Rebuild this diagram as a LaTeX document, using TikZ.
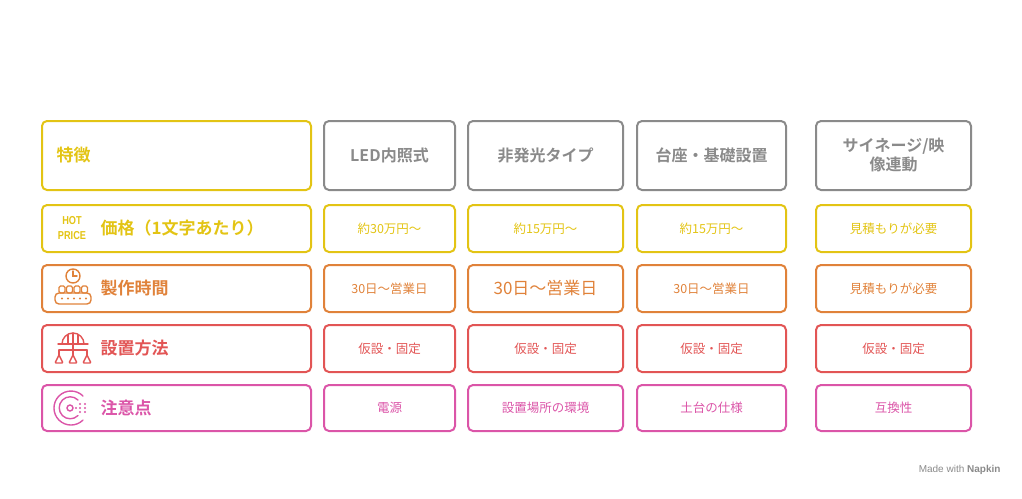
\documentclass[tikz,border=0pt]{standalone}
\usepackage{fontspec}
\setmainfont{Noto Sans CJK JP}
\newfontfamily\jpbold{Noto Sans CJK JP Bold}
\setsansfont{Liberation Sans}
\usetikzlibrary{positioning}
\definecolor{cyellow}{HTML}{E3C414}
\definecolor{corange}{HTML}{E0823A}
\definecolor{cred}{HTML}{E25555}
\definecolor{cpink}{HTML}{DB55A8}
\definecolor{cgray}{HTML}{8A8A8A}

\begin{document}
\begin{tikzpicture}[x=1pt,y=-1pt,
    cell/.style={rectangle, rounded corners=5pt, line width=2pt, align=center},
    headcell/.style={cell, draw=cgray, text=cgray, minimum height=69pt, font=\jpbold\fontsize{16}{19}\selectfont},
    rowcell/.style={cell, minimum height=47pt, font=\fontsize{12.5}{14}\selectfont},
    rowlabel/.style={anchor=west, font=\jpbold\fontsize{17}{20}\selectfont},
    icon/.style={line width=1.4pt, line cap=round}
]
    \useasboundingbox (0,0) rectangle (1022,498);

    % header row
    \node[headcell, draw=cyellow, minimum width=269pt] (h1) at (176.5,155.5) {};
    \node[rowlabel, text=cyellow] (h1t) at (53,155.5) {特徴};
    \node[headcell, minimum width=131pt] (h2) at (389.5,155.5) {LED内照式};
    \node[headcell, minimum width=155pt] (h3) at (545.5,155.5) {非発光タイプ};
    \node[headcell, minimum width=149pt] (h4) at (711.5,155.5) {台座・基礎設置};
    \node[headcell, minimum width=155pt] (h5) at (893.5,155.5) {サイネージ/映\\像連動};

    % price row
    \begin{scope}[every node/.append style={draw=cyellow, text=cyellow}]
        \node[rowcell, minimum width=269pt] (p1) at (176.5,228.5) {};
        \node[rowcell, minimum width=131pt] (p2) at (389.5,228.5) {約30万円〜};
        \node[rowcell, minimum width=155pt] (p3) at (545.5,228.5) {約15万円〜};
        \node[rowcell, minimum width=149pt] (p4) at (711.5,228.5) {約15万円〜};
        \node[rowcell, minimum width=155pt] (p5) at (893.5,228.5) {見積もりが必要};
    \end{scope}
    \node[rowlabel, text=cyellow] (p1t) at (97,228.5) {価格（1文字あたり）};
    \node[text=cyellow, font=\sffamily\bfseries\fontsize{11.5}{13}\selectfont, align=center, inner sep=0pt,
          xscale=0.8, transform shape] (hot) at (72,228) {HOT\\[2pt]PRICE};

    % time row
    \begin{scope}[every node/.append style={draw=corange, text=corange}]
        \node[rowcell, minimum width=269pt] (t1) at (176.5,288.5) {};
        \node[rowcell, minimum width=131pt] (t2) at (389.5,288.5) {30日〜営業日};
        \node[rowcell, minimum width=155pt, font=\fontsize{17}{20}\selectfont] (t3) at (545.5,288.5) {30日〜営業日};
        \node[rowcell, minimum width=149pt] (t4) at (711.5,288.5) {30日〜営業日};
        \node[rowcell, minimum width=155pt] (t5) at (893.5,288.5) {見積もりが必要};
    \end{scope}
    \node[rowlabel, text=corange] (t1t) at (97,288.5) {製作時間};
    \begin{scope}[icon, draw=corange]
        \draw (73,276) circle (7pt);
        \draw (73,271) -- (73,276) -- (77,276);
        \foreach \xx in {59,66.5,74,81.5} \draw[rounded corners=1.5pt] (\xx,293) rectangle ++(6,-7);
        \draw[rounded corners=4pt] (55,293) rectangle (91,304);
        \foreach \xx in {62,68,74,80,86} \fill[corange] (\xx,298.5) circle (1.2pt);
    \end{scope}

    % install row
    \begin{scope}[every node/.append style={draw=cred, text=cred}]
        \node[rowcell, minimum width=269pt] (s1) at (176.5,348.5) {};
        \node[rowcell, minimum width=131pt] (s2) at (389.5,348.5) {仮設・固定};
        \node[rowcell, minimum width=155pt] (s3) at (545.5,348.5) {仮設・固定};
        \node[rowcell, minimum width=149pt] (s4) at (711.5,348.5) {仮設・固定};
        \node[rowcell, minimum width=155pt] (s5) at (893.5,348.5) {仮設・固定};
    \end{scope}
    \node[rowlabel, text=cred] (s1t) at (97,348.5) {設置方法};
    \begin{scope}[icon, draw=cred]
        \draw (62,344) arc (180:0:11pt);
        \draw (73,333) -- (73,344) (68,334.5) -- (68,344) (78,334.5) -- (78,344);
        \draw (58,344) -- (88,344);
        \draw (73,344) -- (73,350) (59,350) -- (87,350);
        \foreach \xx in {59,73,87} {
            \draw (\xx,350) -- (\xx,355);
            \draw[rounded corners=1pt] (\xx-4,363) -- (\xx,355) -- (\xx+4,363) -- cycle;
        }
    \end{scope}

    % notes row
    \begin{scope}[every node/.append style={draw=cpink, text=cpink}]
        \node[rowcell, minimum width=269pt, minimum height=46pt] (n1) at (176.5,408) {};
        \node[rowcell, minimum width=131pt, minimum height=46pt] (n2) at (389.5,408) {電源};
        \node[rowcell, minimum width=155pt, minimum height=46pt] (n3) at (545.5,408) {設置場所の環境};
        \node[rowcell, minimum width=149pt, minimum height=46pt] (n4) at (711.5,408) {土台の仕様};
        \node[rowcell, minimum width=155pt, minimum height=46pt] (n5) at (893.5,408) {互換性};
    \end{scope}
    \node[rowlabel, text=cpink] (n1t) at (97,408) {注意点};
    \begin{scope}[icon, draw=cpink]
        \draw (83,396) arc (45:315:17pt);
        \draw (78,400) arc (45:315:11pt);
        \draw (70,408) circle (3pt);
        \foreach \yy in {404,408,412} \fill[cpink] (80,\yy) circle (1.2pt) (85,\yy) circle (1.2pt);
        \fill[cpink] (76,408) circle (1.2pt);
    \end{scope}

    % footer
    \node[text=cgray, font=\sffamily\fontsize{10}{11}\selectfont, anchor=east] (foot) at (1004,470) {Made with \textbf{Napkin}};
\end{tikzpicture}
\end{document}
